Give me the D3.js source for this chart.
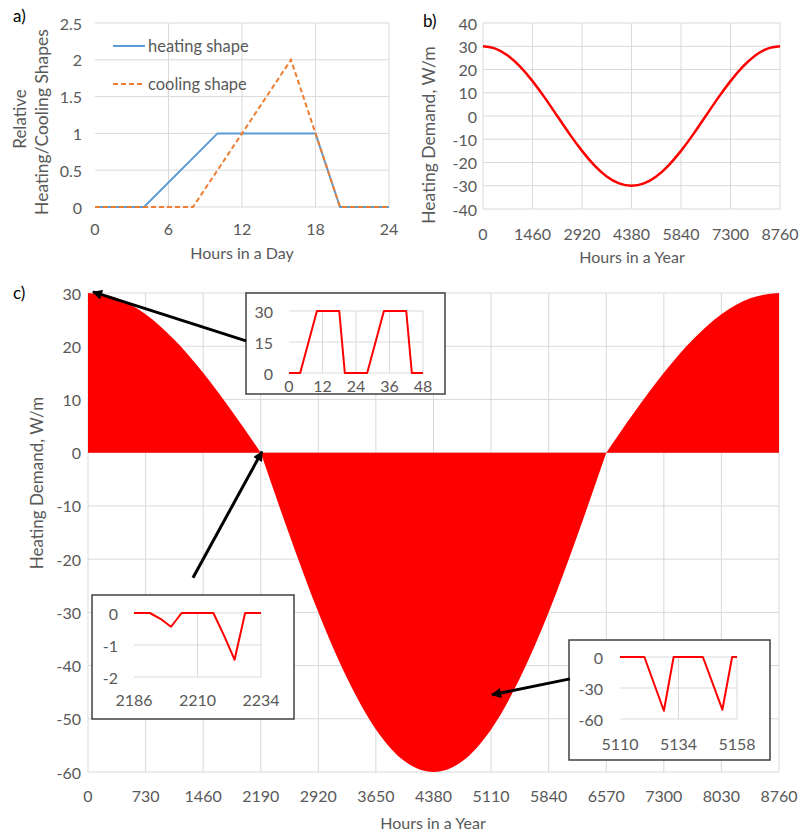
<!DOCTYPE html>
<html>
<head>
<meta charset="utf-8">
<script src="https://cdn.jsdelivr.net/npm/d3@7"></script>
<style>
  body { margin: 0; background: #fff; }
  text { font-family: Lato, "Open Sans", sans-serif; fill: #595959; }
</style>
</head>
<body>
<svg id="chart" width="800" height="835"></svg>
<script>
// a) daily shapes
var heatHours = [0, 4, 10, 18, 20, 24];
var heatShape = [0, 0, 1, 1, 0, 0];
var coolHours = [0, 8, 16, 20, 24];
var coolShape = [0, 0, 2, 0, 0];
var dayTicks = [0, 6, 12, 18, 24];
var shapeTicks = [0, 0.5, 1, 1.5, 2, 2.5];

// b) annual heating demand, read every 365 h
var yearHours = [0, 365, 730, 1095, 1460, 1825, 2190, 2555, 2920, 3285, 3650, 4015, 4380,
                 4745, 5110, 5475, 5840, 6205, 6570, 6935, 7300, 7665, 8030, 8395, 8760];
var annualDemand = [30, 29, 26, 21.2, 15, 7.8, 0, -7.8, -15, -21.2, -26, -29, -30,
                    -29, -26, -21.2, -15, -7.8, 0, 7.8, 15, 21.2, 26, 29, 30];
var yearTicksB = [0, 1460, 2920, 4380, 5840, 7300, 8760];
var demandTicksB = [-40, -30, -20, -10, 0, 10, 20, 30, 40];

// c) hourly demand: daily peaks of the heating and cooling seasons
var winterHours1 = [0, 365, 730, 1095, 1460, 1825, 2190];
var winterPeak1 = [30, 29, 26, 21.2, 15, 7.8, 0];
var summerHours = [2190, 2555, 2920, 3285, 3650, 4015, 4380, 4745, 5110, 5475, 5840, 6205, 6570];
var summerPeak = [0, -15.5, -30, -42.4, -52, -58, -60, -58, -52, -42.4, -30, -15.5, 0];
var winterHours2 = [6570, 6935, 7300, 7665, 8030, 8395, 8760];
var winterPeak2 = [0, 7.8, 15, 21.2, 26, 29, 30];
var yearTicksC = [0, 730, 1460, 2190, 2920, 3650, 4380, 5110, 5840, 6570, 7300, 8030, 8760];
var demandTicksC = [-60, -50, -40, -30, -20, -10, 0, 10, 20, 30];

// insets
var in1Hours = [0, 4, 10, 18, 20, 28, 34, 42, 44, 48];
var in1Demand = [0, 0, 30, 30, 0, 0, 30, 30, 0, 0];
var in1XTicks = [0, 12, 24, 36, 48];
var in1YTicks = [0, 15, 30];

var in2Hours = [2186, 2192, 2196, 2200, 2204, 2216, 2220, 2224, 2228, 2234];
var in2Demand = [0, 0, -0.18, -0.43, 0, 0, -0.7, -1.46, 0, 0];
var in2XTicks = [2186, 2210, 2234];
var in2YTicks = [-2, -1, 0];

var in3Hours = [5110, 5120, 5128, 5132, 5144, 5152, 5156, 5158];
var in3Demand = [0, 0, -52, 0, 0, -51, 0, 0];
var in3XTicks = [5110, 5134, 5158];
var in3YTicks = [-60, -30, 0];

// arrows (in panel c data units): from inset to point of interest
var arrowFrom = [[2003, 21.0], [1331, -23.5], [6110, -42.5]];
var arrowTo = [[63, 30.2], [2206, 0.2], [5122, -45.5]];

var svg = d3.select("#chart");
var grid = "#d9d9d9";

function frame(x, y, xt, yt, o) {
  var g = svg.append("g");
  g.selectAll("line.h").data(yt).join("line")
    .attr("x1", x.range()[0]).attr("x2", x.range()[1])
    .attr("y1", function(d) { return y(d); }).attr("y2", function(d) { return y(d); })
    .attr("stroke", grid).attr("stroke-width", 1);
  g.selectAll("line.v").data(o.vgrid || xt).join("line")
    .attr("x1", function(d) { return x(d); }).attr("x2", function(d) { return x(d); })
    .attr("y1", y.range()[0]).attr("y2", y.range()[1])
    .attr("stroke", grid).attr("stroke-width", 1);
  g.selectAll("text.x").data(xt).join("text")
    .attr("x", function(d) { return x(d); }).attr("y", o.xLabelY)
    .attr("text-anchor", "middle").attr("dominant-baseline", "central")
    .style("font-size", (o.fs || 16) + "px")
    .text(function(d) { return String(d); });
  g.selectAll("text.y").data(yt).join("text")
    .attr("x", o.yLabelX).attr("y", function(d) { return y(d); })
    .attr("text-anchor", "end").attr("dominant-baseline", "central")
    .style("font-size", (o.fs || 16) + "px")
    .text(function(d) { return String(d); });
  return g;
}

function label(txt, x, y, size, rotate, color) {
  var t = svg.append("text")
    .attr("text-anchor", "middle").attr("dominant-baseline", "central")
    .style("font-size", size + "px")
    .text(txt);
  if (color) t.style("fill", color);
  if (rotate) t.attr("transform", "translate(" + x + "," + y + ") rotate(-90)");
  else t.attr("x", x).attr("y", y);
  return t;
}

function series(xs, ys, x, y, curve) {
  return d3.line()
    .x(function(d, i) { return x(xs[i]); })
    .y(function(d) { return y(d); })
    .curve(curve || d3.curveLinear)(ys);
}

// ---- panel a
var xA = d3.scaleLinear().domain([0, 24]).range([95, 389]);
var yA = d3.scaleLinear().domain([0, 2.5]).range([207, 23]);
frame(xA, yA, dayTicks, shapeTicks, { vgrid: dayTicks.slice(1), xLabelY: 228, yLabelX: 82 });
svg.append("path").attr("d", series(heatHours, heatShape, xA, yA))
  .attr("fill", "none").attr("stroke", "#5B9BD5").attr("stroke-width", 2);
svg.append("path").attr("d", series(coolHours, coolShape, xA, yA))
  .attr("fill", "none").attr("stroke", "#ED7D31").attr("stroke-width", 2)
  .attr("stroke-dasharray", "5,3");
svg.append("line").attr("x1", 113).attr("x2", 145).attr("y1", 46).attr("y2", 46)
  .attr("stroke", "#5B9BD5").attr("stroke-width", 2);
svg.append("line").attr("x1", 113).attr("x2", 145).attr("y1", 84).attr("y2", 84)
  .attr("stroke", "#ED7D31").attr("stroke-width", 2).attr("stroke-dasharray", "5,3");
svg.append("text").attr("x", 148).attr("y", 46).attr("dominant-baseline", "central")
  .style("font-size", "16.5px").text("heating shape");
svg.append("text").attr("x", 148).attr("y", 84).attr("dominant-baseline", "central")
  .style("font-size", "16.5px").text("cooling shape");
label("Hours in a Day", 242, 252, 16);
label("Relative", 19, 119, 17, true);
label("Heating/Cooling Shapes", 41, 122, 17.5, true);
svg.append("text").attr("x", 13).attr("y", 15).attr("dominant-baseline", "central")
  .style("font-size", "17px").style("fill", "#000").text("a)");

// ---- panel b
var xB = d3.scaleLinear().domain([0, 8760]).range([483, 780]);
var yB = d3.scaleLinear().domain([-40, 40]).range([209, 23]);
frame(xB, yB, yearTicksB, demandTicksB, { xLabelY: 233, yLabelX: 477 });
svg.append("path").attr("d", series(yearHours, annualDemand, xB, yB, d3.curveNatural))
  .attr("fill", "none").attr("stroke", "#FF0000").attr("stroke-width", 2.5);
label("Hours in a Year", 632, 256, 16);
label("Heating Demand, W/m", 428, 135, 17.5, true);
svg.append("text").attr("x", 423).attr("y", 20).attr("dominant-baseline", "central")
  .style("font-size", "17px").style("fill", "#000").text("b)");

// ---- panel c
var xC = d3.scaleLinear().domain([0, 8760]).range([88, 779]);
var yC = d3.scaleLinear().domain([-60, 30]).range([772, 293]);
frame(xC, yC, yearTicksC, demandTicksC, { xLabelY: 795, yLabelX: 81 });
var peakArea = d3.area()
  .y0(yC(0))
  .y1(function(d) { return yC(d); })
  .curve(d3.curveMonotoneX);
[[winterHours1, winterPeak1], [summerHours, summerPeak], [winterHours2, winterPeak2]]
  .forEach(function(s) {
    svg.append("path")
      .attr("d", peakArea.x(function(d, i) { return xC(s[0][i]); })(s[1]))
      .attr("fill", "#FF0000");
  });
label("Hours in a Year", 433, 822, 16);
label("Heating Demand, W/m", 36, 483, 17, true);
svg.append("text").attr("x", 13).attr("y", 292).attr("dominant-baseline", "central")
  .style("font-size", "17px").style("fill", "#000").text("c)");

function inset(box, xd, yd, plot, hours, vals, xt, yt, xLabelY, yLabelX, vgrid) {
  svg.append("rect").attr("x", box[0]).attr("y", box[1])
    .attr("width", box[2] - box[0]).attr("height", box[3] - box[1])
    .attr("fill", "#fff").attr("stroke", "#404040").attr("stroke-width", 1.5);
  var x = d3.scaleLinear().domain(xd).range([plot[0], plot[2]]);
  var y = d3.scaleLinear().domain(yd).range([plot[3], plot[1]]);
  frame(x, y, xt, yt, { xLabelY: xLabelY, yLabelX: yLabelX, vgrid: vgrid });
  svg.append("path").attr("d", series(hours, vals, x, y))
    .attr("fill", "none").attr("stroke", "#FF0000").attr("stroke-width", 2)
    .attr("stroke-linejoin", "round");
}

inset([246, 293, 445, 394], [0, 48], [0, 30], [289, 311, 423, 373],
  in1Hours, in1Demand, in1XTicks, in1YTicks, 385, 273, in1XTicks.slice(1));
inset([92, 595, 294, 719], [2186, 2234], [-2, 0], [134, 613, 261, 677],
  in2Hours, in2Demand, in2XTicks, in2YTicks, 699, 118, in2XTicks.slice(1));
inset([569, 640, 770, 760], [5110, 5158], [-60, 0], [620, 657, 737, 719],
  in3Hours, in3Demand, in3XTicks, in3YTicks, 743, 603, in3XTicks.slice(1));

// arrows
svg.append("defs").append("marker")
  .attr("id", "head").attr("viewBox", "0 0 10 10")
  .attr("refX", 9).attr("refY", 5)
  .attr("markerWidth", 12).attr("markerHeight", 10)
  .attr("markerUnits", "userSpaceOnUse").attr("orient", "auto")
  .append("path").attr("d", "M0,0L10,5L0,10z").attr("fill", "#000");
svg.selectAll("line.arrow").data(arrowFrom).join("line")
  .attr("x1", function(d) { return xC(d[0]); })
  .attr("y1", function(d) { return yC(d[1]); })
  .attr("x2", function(d, i) { return xC(arrowTo[i][0]); })
  .attr("y2", function(d, i) { return yC(arrowTo[i][1]); })
  .attr("stroke", "#000").attr("stroke-width", 3)
  .attr("marker-end", "url(#head)");
</script>
</body>
</html>
